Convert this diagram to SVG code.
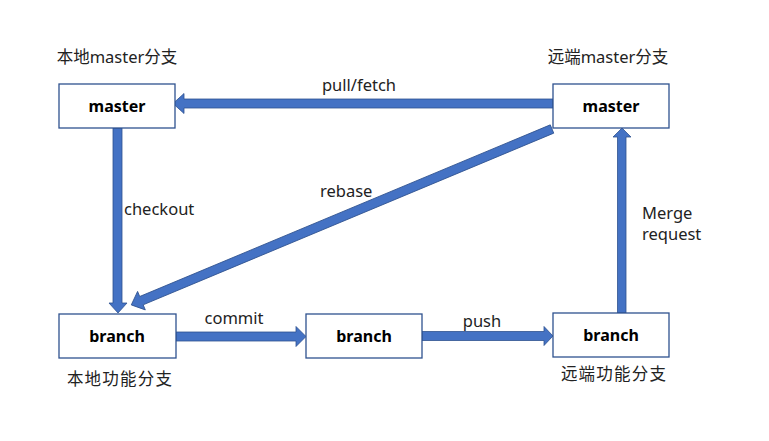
<svg xmlns="http://www.w3.org/2000/svg" width="769" height="441" viewBox="0 0 769 441">
<style>
.box{fill:#fff;stroke:#2F528F;stroke-width:1.3}
.bl{font-family:"Noto Sans","Noto Sans CJK SC",sans-serif;font-size:16px;font-weight:bold;fill:#000;text-anchor:middle}
.lb{font-family:"Noto Sans","Noto Sans CJK SC",sans-serif;font-size:16.5px;fill:#222}
.cap{font-family:"Noto Sans","Noto Sans CJK SC",sans-serif;font-size:16.5px;fill:#222;text-anchor:middle}
.arr{fill:#4472C4;stroke:#2F528F;stroke-width:0.8}
</style>
<rect width="769" height="441" fill="#fff"/>
<g id="connectors">
<polygon class="arr" points="553,99 184,99 184,93.5 173,103.5 184,113.5 184,108 553,108"/>
<polygon class="arr" points="113,128 122,128 122,303 127,303 118,313 109,303 113,303"/>
<polygon class="arr" transform="translate(552,129) rotate(157.31)" points="0,-4.5 445,-4.5 445,-10 456,0 445,10 445,4.5 0,4.5"/>
<polygon class="arr" points="617.5,313 626,313 626,137 631,137 622,128 613,137 617.5,137"/>
<polygon class="arr" points="176,332 296,332 296,326.5 306,336.5 296,346.5 296,341 176,341"/>
<polygon class="arr" points="422,331.5 544,331.5 544,326.5 553,336 544,345.5 544,340.5 422,340.5"/>
<text class="lb" x="359" y="91" text-anchor="middle">pull/fetch</text>
<text class="lb" x="124" y="215">checkout</text>
<text class="lb" x="320" y="197">rebase</text>
<text class="lb" x="642" y="219">Merge</text>
<text class="lb" x="642" y="240">request</text>
<text class="lb" x="234" y="324" text-anchor="middle">commit</text>
<text class="lb" x="482" y="327" text-anchor="middle">push</text>
</g>
<g id="local-master">
<text class="cap" x="117" y="63">本地master分支</text>
<rect class="box" x="59" y="84" width="116" height="44"/>
<text class="bl" x="117" y="112">master</text>
</g>
<g id="remote-master">
<text class="cap" x="608" y="63">远端master分支</text>
<rect class="box" x="553" y="84" width="116" height="44"/>
<text class="bl" x="611" y="112">master</text>
</g>
<g id="local-branch">
<rect class="box" x="59" y="314" width="117" height="44"/>
<text class="bl" x="117" y="342">branch</text>
<text class="cap" x="120" y="385" letter-spacing="1.2">本地功能分支</text>
</g>
<g id="mid-branch">
<rect class="box" x="306" y="314" width="116" height="44"/>
<text class="bl" x="364" y="342">branch</text>
</g>
<g id="remote-branch">
<rect class="box" x="553" y="313" width="116" height="44"/>
<text class="bl" x="611" y="341">branch</text>
<text class="cap" x="614" y="380" letter-spacing="1.2">远端功能分支</text>
</g>
</svg>
